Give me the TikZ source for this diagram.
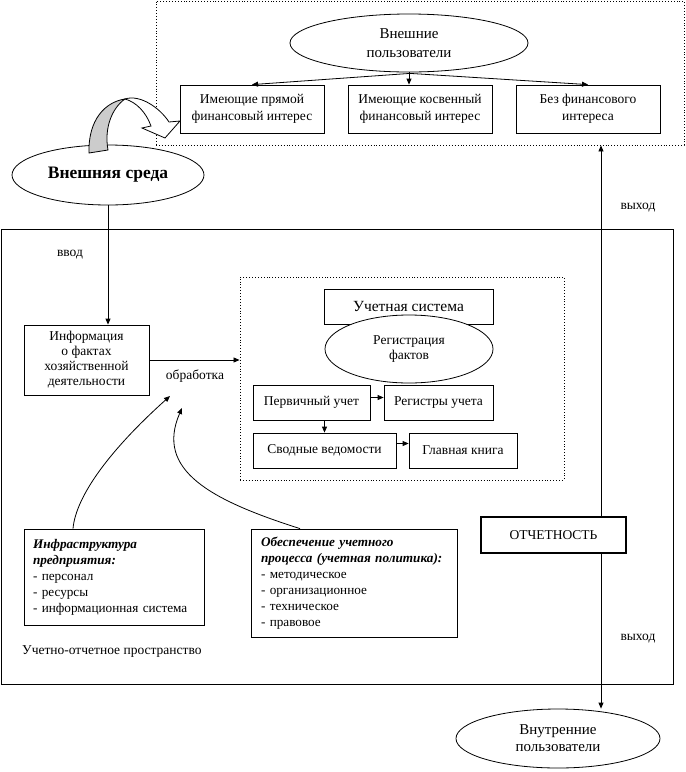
\documentclass[tikz,border=0pt]{standalone}
\usepackage{fontspec}
\setmainfont{Liberation Serif}
\usetikzlibrary{shapes.geometric,arrows.meta,calc}
\newcommand\fsz[2]{\fontsize{#1}{#2}\selectfont}
\begin{document}
\begin{tikzpicture}[x=1pt,y=-1pt,
  box/.style={draw,line width=0.8pt,fill=white,inner sep=1pt,align=center,font=\fsz{13.5}{15}},
  ell/.style={draw,ellipse,line width=0.8pt,fill=white,inner sep=0pt,align=center},
  dotbox/.style={draw,dotted,line width=0.9pt,inner sep=0pt},
  arr/.style={-{Triangle[length=6pt,width=5pt]},line width=0.8pt},
  lbl/.style={font=\fsz{13.5}{15},inner sep=0pt},
  listbox/.style={draw,line width=0.8pt,fill=white,align=left,inner xsep=9pt,font=\fsz{13.2}{16}}]
\useasboundingbox (0,0) rectangle (686,772);

% outer frames
\node[dotbox,minimum width=528pt,minimum height=144pt] (ext) at (420,73) {};
\node[draw,line width=0.8pt,minimum width=672pt,minimum height=455pt,inner sep=0pt] (space) at (337,456.5) {};
\node[dotbox,minimum width=324pt,minimum height=203pt] (inner) at (402,378.5) {};

% external users
\node[ell,minimum width=238pt,minimum height=58pt,font=\fsz{15}{19}] (extU) at (409,43) {Внешние\\пользователи};
\node[box,minimum width=144pt,minimum height=48pt,font=\fsz{13.5}{17}] (b1) at (252,109) {Имеющие прямой\\финансовый интерес};
\node[box,minimum width=144pt,minimum height=48pt,font=\fsz{13.5}{17}] (b2) at (420,109) {Имеющие косвенный\\финансовый интерес};
\node[box,minimum width=144pt,minimum height=48pt,font=\fsz{13.5}{17}] (b3) at (588,109) {Без финансового\\интереса};
\draw[arr] ($(extU.south)+(1,1)$) -- (b1.north);
\draw[arr] ($(extU.south)+(1,1)$) -- (b3.north);
\draw[arr] (extU.south) -- (extU.south |- b2.north);

% external environment
\node[ell,minimum width=192pt,minimum height=60pt,font=\fsz{17.5}{20}\bfseries] (sreda) at (108,175) {Внешняя среда};
\fill[gray!40,draw=black,line width=0.8pt] (89,153) .. controls (88,120) and (105,102) .. (125,99)
   .. controls (112,108) and (104,128) .. (108,150) -- cycle;
\filldraw[fill=white,draw=black,line width=0.8pt] (125,99) .. controls (140,94) and (160,108) .. (169,122)
   -- (180,121) -- (165,138) -- (142,128) -- (151,126)
   .. controls (146,112) and (136,102) .. (125,99) -- cycle;

% input
\node[box,minimum width=125pt,minimum height=70pt] (info) at (86.5,360) {Информация\\о фактах\\хозяйственной\\деятельности};
\draw[arr] (sreda.south) -- (sreda.south |- info.north);
\node[lbl] (vvod) at (70,255) {ввод};
\draw[arr] (info.east) -- (info.east -| inner.west);
\node[lbl] (obr) at (195,376) {обработка};

% accounting system
\node[box,minimum width=169pt,minimum height=35pt,font=\fsz{15.5}{18}] (us) at (408.5,306.5) {Учетная система};
\node[ell,minimum width=168pt,minimum height=68pt,font=\fsz{13.5}{15}] (reg) at (409,349) {Регистрация\\фактов};
\node[box,minimum width=117pt,minimum height=35pt] (perv) at (311.5,402.5) {Первичный учет};
\node[box,minimum width=109pt,minimum height=35pt] (regu) at (438.5,402.5) {Регистры учета};
\node[box,minimum width=143pt,minimum height=35pt] (svod) at (324.5,450.5) {Сводные ведомости};
\node[box,minimum width=108pt,minimum height=35pt] (glav) at (463,450.5) {Главная книга};
\draw[arr] ([yshift=5pt]perv.east) -- ([yshift=5pt]regu.west);
\draw[arr] (perv.south -| svod.north) -- (svod.north);
\draw[arr] ([yshift=7pt]svod.east) -- ([yshift=7pt]glav.west);

% support boxes
\node[listbox,text width=162pt,minimum height=96pt] (infra) at (114,577)
  {\textbf{\textit{Инфраструктура\\предприятия:}}\\- персонал\\- ресурсы\\- информационная система};
\node[listbox,text width=186pt,minimum height=108pt,inner xsep=10pt] (obesp) at (354,583)
  {\textbf{\textit{Обеспечение учетного\\процесса (учетная политика):}}\\- методическое\\- организационное\\- техническое\\- правовое};
\coordinate (t1) at (170,396);
\coordinate (t2) at (182,408);
\draw[arr] (infra.north -| 73,0) .. controls (76,495) and (112,448) .. (t1);
\draw[arr] (obesp.north -| 300,0) .. controls (210,500) and (155,470) .. (t2);
\node[lbl,anchor=west] (space-lbl) at (22,652) {Учетно-отчетное пространство};

% reporting
\coordinate (vx) at (601,0);
\node[ell,minimum width=204pt,minimum height=59pt,font=\fsz{15}{17}] (inU) at (558,738.5) {Внутренние\\пользователи};
\draw[arr] (vx |- 0,517) -- (vx |- ext.south);
\draw[arr] (vx |- 0,553) -- (vx |- inU.north);
\node[draw,line width=2.2pt,fill=white,minimum width=145pt,minimum height=36pt,font=\fsz{13.5}{15}] (otch) at (553.5,535) {ОТЧЕТНОСТЬ};
\node[lbl] (out1) at (638,208) {выход};
\node[lbl] (out2) at (638,639) {выход};
\end{tikzpicture}
\end{document}
